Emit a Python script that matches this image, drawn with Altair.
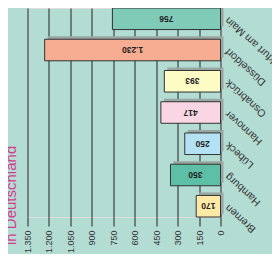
import altair as alt
import pandas as pd

cities = ["Frankfurt am Main", "Düsseldorf", "Osnabrück", "Hannover", "Lübeck", "Hamburg", "Bremen"]
values = [756, 1230, 393, 417, 250, 350, 170]
colors = ["#7fcbb8", "#f7ad91", "#fefcc5", "#fad6e5", "#b4e1f4", "#5dbfa5", "#feeaa6"]
tick_values = [0, 150, 300, 450, 600, 750, 900, 1050, 1200, 1350]
title_text = "in Deutschland"

df = pd.DataFrame({"city": cities, "v": values, "c": colors})

fmt = "replace(format(datum.value, ','), ',', '.')"

y_enc = alt.Y(
    "city:N", sort=cities,
    scale=alt.Scale(paddingInner=0.31, paddingOuter=0),
    axis=alt.Axis(orient="right", title=None, ticks=False, domain=False, grid=False,
                  labelAngle=222, labelAlign="right", labelBaseline="middle",
                  labelPadding=6, labelFontSize=10.5, labelColor="#333333"),
)

x_axis = alt.Axis(values=tick_values, orient="bottom", title=None, grid=True,
                  gridColor="#222222", gridWidth=1, tickColor="#222222", tickSize=9,
                  domain=False, labelAngle=270, labelAlign="right", labelBaseline="middle",
                  labelPadding=4, labelExpr=fmt, labelFontSize=9, labelColor="#333333")
x_scale = alt.Scale(domain=[0, 1350], reverse=True, nice=False, zero=True)

base = alt.Chart(df).encode(y=y_enc)

shadow = base.mark_bar(color="#98a7a3", xOffset=3, yOffset=-3).encode(
    x=alt.X("v:Q", scale=x_scale, axis=x_axis)
)
bars = base.mark_bar(stroke="#333333", strokeWidth=1).encode(
    x=alt.X("v:Q", scale=x_scale, axis=x_axis),
    color=alt.Color("c:N", scale=None),
)
labels = base.mark_text(angle=180, fontSize=8.5, fontWeight="bold", color="#222222").transform_calculate(
    mid="datum.v / 2",
    lab="replace(format(datum.v, ','), ',', '.')",
).encode(
    x=alt.X("mid:Q", scale=x_scale, axis=x_axis),
    text="lab:N",
)
title = alt.Chart(pd.DataFrame({"t": [title_text]})).mark_text(
    angle=270, align="left", baseline="alphabetic", fontSize=15, color="#d63b8f"
).encode(x=alt.value(-11.5), y=alt.value(237), text="t:N")

chart = alt.layer(shadow, bars, labels, title).properties(
    width=193, height=209,
    autosize=alt.AutoSizeParams(type="none"),
    padding={"left": 19.5, "top": 0, "right": 51, "bottom": 37},
    background="#b3dcd3",
).configure_view(stroke=None).configure(font="Liberation Sans")

chart.save("out.html", embed_options={"renderer": "svg", "actions": False})
